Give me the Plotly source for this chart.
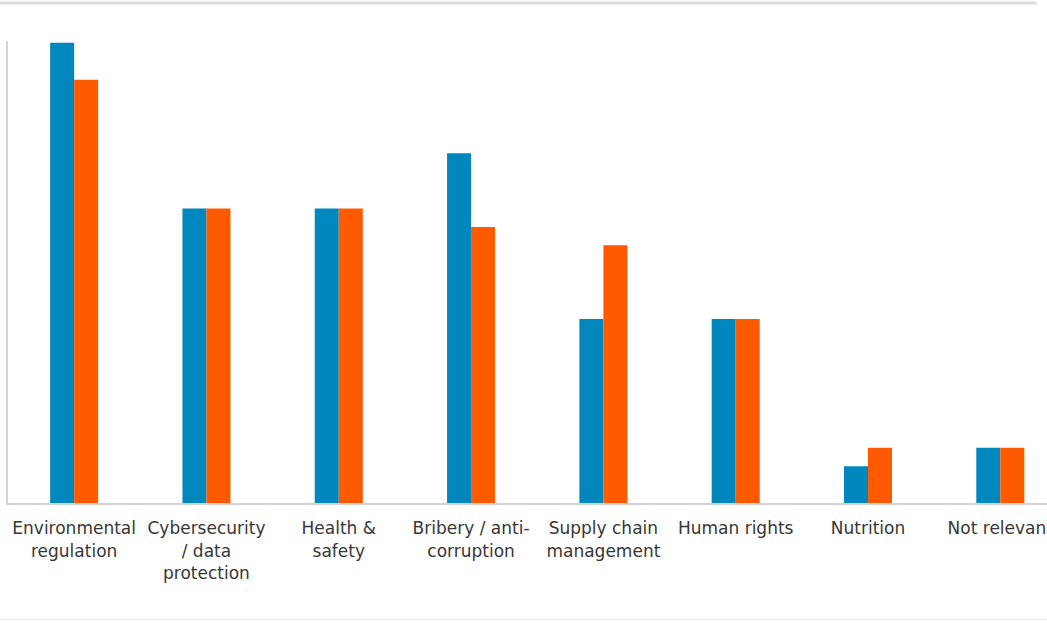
import plotly.graph_objects as go

categories = ["Environmental<br>regulation", "Cybersecurity<br>/ data<br>protection", "Health &<br>safety",
              "Bribery / anti-<br>corruption", "Supply chain<br>management", "Human rights",
              "Nutrition", "Not relevant"]
series_a = [50, 32, 32, 38, 20, 20, 4, 6]
series_b = [46, 32, 32, 30, 28, 20, 6, 6]

fig = go.Figure()
fig.add_trace(go.Bar(x=categories, y=series_a, marker=dict(color="#0088BE", line=dict(width=0)), name="A"))
fig.add_trace(go.Bar(x=categories, y=series_b, marker=dict(color="#FF5A00", line=dict(width=0)), name="B"))

fig.update_layout(
    width=1047, height=624,
    margin=dict(l=8, r=0, t=41, b=121, autoexpand=False),
    barmode="group", bargap=0.637, bargroupgap=0,
    showlegend=False,
    plot_bgcolor="white", paper_bgcolor="white",
    font=dict(family="DejaVu Sans, Arial, sans-serif", size=17, color="#363636"),
    xaxis=dict(range=[-0.5, 7.353], showline=True, linecolor="#d4d4d4", linewidth=2,
               ticks="", tickangle=0, showgrid=False, fixedrange=True, ticklabelstandoff=9,
               automargin=False),
    yaxis=dict(range=[0, 50.2], showline=True, linecolor="#d4d4d4", linewidth=2,
               showticklabels=False, ticks="", showgrid=False, zeroline=False, automargin=False),
    shapes=[
        dict(type="line", xref="paper", yref="paper", x0=-0.01, x1=0.99, y0=1.082, y1=1.082,
             line=dict(color="#dcdcdc", width=3)),
        dict(type="line", xref="paper", yref="paper", x0=-0.01, x1=1.01, y0=-0.252, y1=-0.252,
             line=dict(color="#f0f0f0", width=2)),
    ],
)

fig.write_html("out.html")
